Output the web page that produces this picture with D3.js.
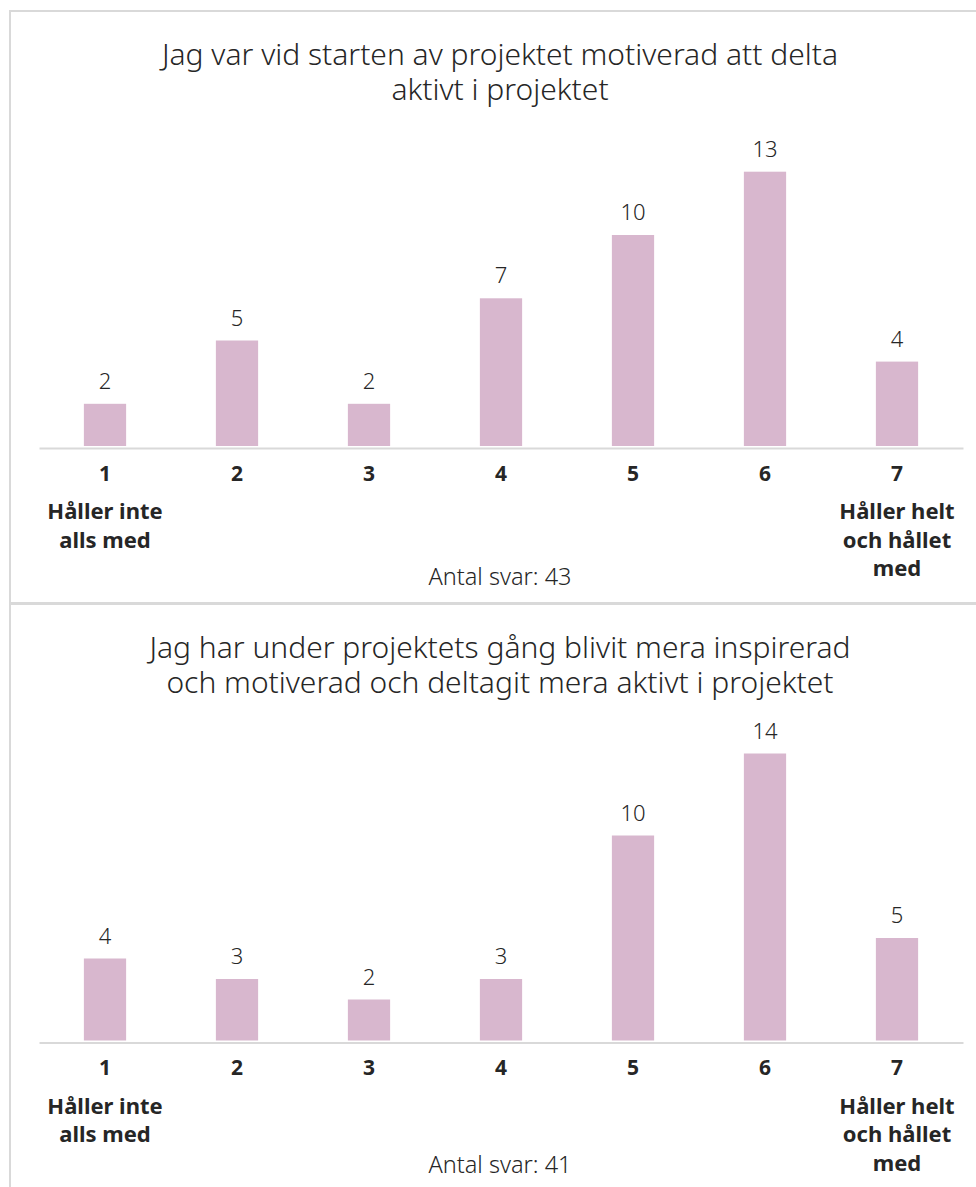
<!DOCTYPE html>
<html>
<head>
<meta charset="utf-8">
<script src="https://cdn.jsdelivr.net/npm/d3@7"></script>
<style>
  body { margin: 0; background: #fff; }
  svg { display: block; font-family: "Noto Sans", Lato, sans-serif; }
</style>
</head>
<body>
<svg id="chart" width="976" height="1187"></svg>
<script>

var categories = ["1", "2", "3", "4", "5", "6", "7"];
var valuesStart = [2, 5, 2, 7, 10, 13, 4];
var valuesDuring = [4, 3, 2, 3, 10, 14, 5];
var titleStart = ["Jag var vid starten av projektet motiverad att delta", "aktivt i projektet"];
var titleDuring = ["Jag har under projektets gång blivit mera inspirerad", "och motiverad och deltagit mera aktivt i projektet"];
var lowLabel = ["Håller inte", "alls med"];
var highLabel = ["Håller helt", "och hållet", "med"];
var answerCounts = [43, 41];

var BAR_COLOR = "#d8b7ce";
var LINE_COLOR = "#d9d9d9";
var TEXT_COLOR = "#262626";

var svg = d3.select("#chart");

var panels = [
    {top: 11, height: 592, title: titleStart, values: valuesStart, count: answerCounts[0], zero: 435, plotH: 316.5, countY: 139},
    {top: 604, height: 620, title: titleDuring, values: valuesDuring, count: answerCounts[1], zero: 436.5, plotH: 307.5, countY: 132}
];

var x = d3.scaleBand()
    .domain(categories)
    .range([39, 963])
    .paddingInner(0.68)
    .paddingOuter(0.34);

panels.forEach(function(p) {
    var g = svg.append("g")
        .attr("transform", "translate(0," + p.top + ")");

    g.append("rect")
        .attr("x", 10)
        .attr("y", 0)
        .attr("width", 980)
        .attr("height", p.height)
        .attr("fill", "none")
        .attr("stroke", LINE_COLOR)
        .attr("stroke-width", 2);

    var y = d3.scaleLinear()
        .domain([0, 15])
        .range([p.zero, p.zero - p.plotH]);

    g.append("text")
        .attr("x", 500)
        .attr("y", 54)
        .attr("text-anchor", "middle")
        .attr("fill", TEXT_COLOR)
        .style("font-size", "30px")
        .style("font-weight", 300)
        .selectAll("tspan")
        .data(p.title)
        .enter()
        .append("tspan")
        .attr("x", 500)
        .attr("dy", function(d, i) { return i ? 35 : 0; })
        .text(function(d) { return d; });

    var data = categories.map(function(c, i) { return {cat: c, value: p.values[i]}; });

    g.selectAll("rect.bar")
        .data(data)
        .enter()
        .append("rect")
        .attr("class", "bar")
        .attr("x", function(d) { return x(d.cat); })
        .attr("width", x.bandwidth())
        .attr("y", function(d) { return y(d.value); })
        .attr("height", function(d) { return y(0) - y(d.value); })
        .attr("fill", BAR_COLOR);

    g.selectAll("text.value")
        .data(data)
        .enter()
        .append("text")
        .attr("class", "value")
        .attr("x", function(d) { return x(d.cat) + x.bandwidth() / 2; })
        .attr("y", function(d) { return y(d.value) - 15; })
        .attr("text-anchor", "middle")
        .attr("fill", TEXT_COLOR)
        .style("font-size", "22px")
        .style("font-weight", 300)
        .text(function(d) { return d.value; });

    var axis = g.append("g")
        .attr("transform", "translate(0," + (p.zero + 2) + ")")
        .call(d3.axisBottom(x).tickSize(0).tickPadding(18));
    axis.select(".domain")
        .attr("stroke", LINE_COLOR)
        .attr("stroke-width", 2);
    axis.selectAll(".tick text")
        .attr("fill", TEXT_COLOR)
        .style("font-family", "'Noto Sans', sans-serif")
        .style("font-size", "21px")
        .style("font-weight", 700);

    function endLabel(lines, cat) {
        g.append("text")
            .attr("text-anchor", "middle")
            .attr("fill", TEXT_COLOR)
            .style("font-size", "22px")
            .style("font-weight", 700)
            .selectAll("tspan")
            .data(lines)
            .enter()
            .append("tspan")
            .attr("x", x(cat) + x.bandwidth() / 2)
            .attr("y", function(d, i) { return p.zero + 73 + i * 28.5; })
            .text(function(d) { return d; });
    }
    endLabel(lowLabel, categories[0]);
    endLabel(highLabel, categories[categories.length - 1]);

    g.append("text")
        .attr("x", 500)
        .attr("y", p.zero + p.countY)
        .attr("text-anchor", "middle")
        .attr("fill", TEXT_COLOR)
        .style("font-size", "23.5px")
        .style("font-weight", 300)
        .text("Antal svar: " + p.count);
});

</script>
</body>
</html>
